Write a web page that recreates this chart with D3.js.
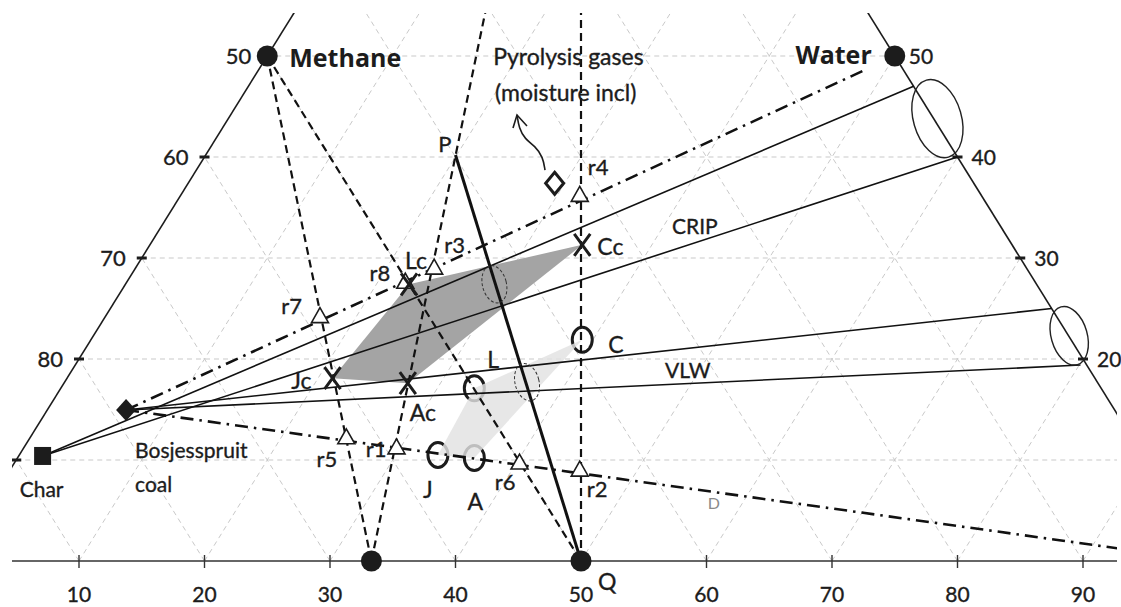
<!DOCTYPE html>
<html>
<head>
<meta charset="utf-8">
<script src="https://cdn.jsdelivr.net/npm/d3@7"></script>
<style>
  html, body { margin: 0; padding: 0; background: #fff; }
  svg { display: block; }
  text { font-family: Lato, "Open Sans", sans-serif; fill: #1c1c1c; stroke: #1c1c1c; stroke-width: 0.35px; }
</style>
</head>
<body>
<svg id="chart" width="1121" height="607"></svg>
<script>
// Every point is [position on the bottom scale, level on the side scale].

// Axis ticks
const bottomTicks = [10, 20, 30, 40, 50, 60, 70, 80, 90];
const sideLevels = [10, 20, 30, 40, 50];
const labelledLevels = [20, 30, 40, 50];
const leftTickLabels = ["80", "70", "60", "50"];   // left side reads 100 - level
const rightTickLabels = ["20", "30", "40", "50"];

// Triangle corners used by construction lines
const apex = [50, 100];
const rightCorner = [100, 0];

// Pure components
const pureNames = ["Methane", "Water"];
const purePoints = [[25, 50], [75, 50]];
const baseNames = ["", "Q"];
const basePoints = [[33.3, 0], [50, 0]];

// Solid feedstocks
const charPoint = [7.1, 10.4];
const coalPoint = [13.75, 14.95];

// Pyrolysis gas composition and the P–Q line
const gasPoint = [47.9, 37.4];
const pointP = [40, 40.2];

// Reaction points r1..r8
const triNames = ["r1", "r2", "r3", "r4", "r5", "r6", "r7", "r8"];
const triPoints = [[35.3, 11.2], [49.9, 9.0], [38.3, 29.0], [49.9, 36.2],
                   [31.3, 12.2], [45.1, 9.7], [29.2, 24.2], [36.0, 27.6]];

// Corrected operating points (crosses) and measured points (rings)
const crossNames = ["Jc", "Lc", "Cc", "Ac"];
const crossPoints = [[30.2, 18.1], [36.3, 27.4], [50.1, 31.3], [36.2, 17.6]];
const ringNames = ["J", "L", "C", "A"];
const ringPoints = [[38.6, 10.5], [41.5, 17.1], [50.1, 21.9], [41.5, 10.2]];

// Fan lines towards the right side
const fanFromChar = [[76.5, 47.0], [80.0, 40.0]];
const fanFromCoal = [[87.5, 25.0], [89.8, 19.4]];
const waterLineEnd = [72.6, 48.6];

// Uncertainty ellipses
const sideEllipses = [[78.4, 43.8], [88.9, 22.3]];
const crossingEllipses = [[43.1, 27.4], [45.7, 17.7]];

// Free text placed on the diagram
const freeNames = ["CRIP", "VLW", "Pyrolysis gases", "(moisture incl)", "D"];
const freePoints = [[57.25, 32.4], [56.7, 18.1], [43.0, 49.1], [43.15, 45.5], [60.1, 5.15]];

// Arrow from the gas point to its caption
const arrowPath = [[47.13, 38.71], [46.97, 40.0], [46.33, 41.09], [45.53, 41.78], [45.06, 42.87], [44.9, 44.16]];

// ---------------------------------------------------------------
const W = 1121, H = 607;
const svg = d3.select("#chart");
const x = d3.scaleLinear().domain([0, 100]).range([-46.5, 1208.5]);
const y = d3.scaleLinear().domain([0, 100]).range([561, -449]);
const px = p => [x(p[0]), y(p[1])];
const line = d3.line().x(d => x(d[0])).y(d => y(d[1]));

svg.append("rect").attr("width", W).attr("height", H).attr("fill", "#fff");

svg.append("clipPath").attr("id", "plotClip")
  .append("rect").attr("x", 12).attr("y", 13).attr("width", 1105).attr("height", 594);

const plot = svg.append("g").attr("clip-path", "url(#plotClip)");

// Triangular grid
const gridSegs = [];
sideLevels.forEach(h => gridSegs.push([[h / 2, h], [100 - h / 2, h]]));
bottomTicks.forEach(u => {
  gridSegs.push([[u, 0], [u + (100 - u) / 2, 100 - u]]);
  gridSegs.push([[u, 0], [u / 2, u]]);
});
plot.append("g").selectAll("path").data(gridSegs).join("path")
  .attr("d", line).attr("fill", "none")
  .attr("stroke", "#c9c9c9").attr("stroke-width", 1).attr("stroke-dasharray", "5,4");

// Shaded regions
plot.append("path").datum(crossPoints.concat([crossPoints[0]]))
  .attr("d", line).attr("fill", "#a4a4a4").attr("stroke", "none");

// Measured rings sit under the light region
const ringG = plot.append("g");
ringG.selectAll("ellipse").data(ringPoints).join("ellipse")
  .attr("cx", d => x(d[0])).attr("cy", d => y(d[1]))
  .attr("rx", 10).attr("ry", 12.5)
  .attr("fill", "none").attr("stroke", "#1c1c1c").attr("stroke-width", 3);

plot.append("path").datum(ringPoints.concat([ringPoints[0]]))
  .attr("d", line).attr("fill", "#e2e2e2").attr("fill-opacity", 0.82).attr("stroke", "none");

// Triangle edges and base axis
const edges = [[[0, 0], apex], [rightCorner, apex]];
plot.append("g").selectAll("path").data(edges).join("path")
  .attr("d", line).attr("stroke", "#1c1c1c").attr("stroke-width", 1.6).attr("fill", "none");
plot.append("path").datum([[0, 0], rightCorner]).attr("d", line)
  .attr("stroke", "#333").attr("stroke-width", 1.6);

// Bottom ticks and labels
const bt = svg.append("g");
bt.selectAll("line").data(bottomTicks).join("line")
  .attr("x1", d => x(d)).attr("x2", d => x(d))
  .attr("y1", y(0) - 6).attr("y2", y(0) + 7)
  .attr("stroke", "#333").attr("stroke-width", 1.4);
bt.selectAll("text").data(bottomTicks).join("text")
  .attr("x", d => x(d)).attr("y", y(0) + 41)
  .attr("text-anchor", "middle").attr("font-size", 21)
  .text(d => d);

// Side ticks and labels
const leftPts = sideLevels.map(h => [h / 2, h]);
const rightPts = sideLevels.map(h => [100 - h / 2, h]);
plot.append("g").selectAll("line").data(leftPts.concat(rightPts)).join("line")
  .attr("x1", d => x(d[0]) - 5).attr("x2", d => x(d[0]) + 5)
  .attr("y1", d => y(d[1])).attr("y2", d => y(d[1]))
  .attr("stroke", "#1c1c1c").attr("stroke-width", 3);
svg.append("g").selectAll("text").data(labelledLevels).join("text")
  .attr("x", h => x(h / 2) - 16).attr("y", h => y(h) + 8)
  .attr("text-anchor", "end").attr("font-size", 22)
  .text((d, i) => leftTickLabels[i]);
svg.append("g").selectAll("text").data(labelledLevels).join("text")
  .attr("x", h => x(100 - h / 2) + 14).attr("y", h => y(h) + 8)
  .attr("text-anchor", "start").attr("font-size", 21)
  .text((d, i) => rightTickLabels[i]);

// Dashed construction lines
const dashed = [
  [purePoints[0], basePoints[0]],
  [purePoints[0], basePoints[1]],
  [basePoints[0], apex],
  [basePoints[1], apex]
];
plot.append("g").selectAll("path").data(dashed).join("path")
  .attr("d", line).attr("fill", "none")
  .attr("stroke", "#111").attr("stroke-width", 2.2).attr("stroke-dasharray", "8,5");

// Dash-dot lines from the coal
const dashDot = [[coalPoint, waterLineEnd], [coalPoint, rightCorner]];
plot.append("g").selectAll("path").data(dashDot).join("path")
  .attr("d", line).attr("fill", "none")
  .attr("stroke", "#111").attr("stroke-width", 2.6).attr("stroke-dasharray", "13,6,2.5,6");

// Fan lines
const fans = fanFromChar.map(e => [charPoint, e]).concat(fanFromCoal.map(e => [coalPoint, e]));
plot.append("g").selectAll("path").data(fans).join("path")
  .attr("d", line).attr("fill", "none")
  .attr("stroke", "#111").attr("stroke-width", 1.6);

// P–Q line
plot.append("path").datum([pointP, basePoints[1]]).attr("d", line)
  .attr("stroke", "#111").attr("stroke-width", 3).attr("fill", "none");

// Ellipses
const ell = plot.append("g");
ell.selectAll(".se").data(sideEllipses).join("ellipse").attr("class", "se")
  .attr("transform", d => `translate(${x(d[0])},${y(d[1])}) rotate(-16)`)
  .attr("rx", (d, i) => i === 0 ? 24 : 18).attr("ry", (d, i) => i === 0 ? 40 : 30)
  .attr("fill", "none").attr("stroke", "#222").attr("stroke-width", 1.4);
ell.selectAll(".ce").data(crossingEllipses).join("ellipse").attr("class", "ce")
  .attr("transform", d => `translate(${x(d[0])},${y(d[1])}) rotate(-14)`)
  .attr("rx", 12).attr("ry", 19)
  .attr("fill", "none").attr("stroke", "#333").attr("stroke-width", 1).attr("stroke-dasharray", "3,2");

// Markers
const mk = svg.append("g");
mk.selectAll(".pure").data(purePoints.concat(basePoints)).join("circle")
  .attr("cx", d => x(d[0])).attr("cy", d => y(d[1])).attr("r", 10.5)
  .attr("fill", "#1c1c1c");
mk.append("rect")
  .attr("x", x(charPoint[0]) - 8.5).attr("y", y(charPoint[1]) - 9)
  .attr("width", 17).attr("height", 18).attr("fill", "#1c1c1c");
mk.append("path")
  .attr("transform", `translate(${x(coalPoint[0])},${y(coalPoint[1])})`)
  .attr("d", "M0,-11 L10,0 L0,11 L-10,0 Z").attr("fill", "#1c1c1c");
mk.append("path")
  .attr("transform", `translate(${x(gasPoint[0])},${y(gasPoint[1])})`)
  .attr("d", "M0,-11 L9,0 L0,11 L-9,0 Z").attr("fill", "#fff")
  .attr("stroke", "#1c1c1c").attr("stroke-width", 3);
mk.selectAll(".tri").data(triPoints).join("path")
  .attr("transform", d => `translate(${x(d[0])},${y(d[1])})`)
  .attr("d", "M0,-9 L8.5,6 L-8.5,6 Z")
  .attr("fill", "#fff").attr("stroke", "#1c1c1c").attr("stroke-width", 1.6);
mk.selectAll(".cross").data(crossPoints).join("path")
  .attr("transform", d => `translate(${x(d[0])},${y(d[1])})`)
  .attr("d", "M-8,-11 L8,11 M8,-11 L-8,11")
  .attr("fill", "none").attr("stroke", "#1c1c1c").attr("stroke-width", 3);

// Arrow to the gas caption
const curve = d3.line().curve(d3.curveBasis).x(d => x(d[0])).y(d => y(d[1]));
svg.append("path").datum(arrowPath).attr("d", curve)
  .attr("fill", "none").attr("stroke", "#1c1c1c").attr("stroke-width", 1.6);
const tip = px(arrowPath[arrowPath.length - 1]);
svg.append("path")
  .attr("d", `M${tip[0] - 4},${tip[1] + 13} L${tip[0]},${tip[1]} L${tip[0] + 10},${tip[1] + 11}`)
  .attr("fill", "none").attr("stroke", "#1c1c1c").attr("stroke-width", 1.6);

// Labels
const lab = svg.append("g");
function label(p, text, anchor, dx, dy, size, weight, family, color) {
  const t = lab.append("text")
    .attr("x", x(p[0]) + dx).attr("y", y(p[1]) + dy)
    .attr("text-anchor", anchor).attr("font-size", size || 22)
    .text(text);
  if (weight) t.attr("font-weight", weight).style("stroke-width", "0px");
  if (family) t.style("font-family", family);
  if (color) t.style("fill", color).style("stroke-width", "0px");
  return t;
}
const triNudge = {
  r1: ["end", -10, 9], r2: ["start", 7, 27], r3: ["start", 10, -15], r4: ["start", 8, -20],
  r5: ["end", -9, 29], r6: ["end", -4, 27], r7: ["end", -18, -3], r8: ["end", -15, -1]
};
triPoints.forEach((p, i) => { const n = triNudge[triNames[i]]; label(p, triNames[i], n[0], n[1], n[2]); });
const crossNudge = { Jc: ["end", -21, 11], Lc: ["start", -4, -15], Cc: ["start", 15, 10], Ac: ["start", 2, 38] };
crossPoints.forEach((p, i) => { const n = crossNudge[crossNames[i]]; label(p, crossNames[i], n[0], n[1], n[2], 23); });
const ringNudge = { J: ["middle", -10, 43], L: ["start", 13, -20], C: ["start", 26, 13], A: ["middle", 1, 52] };
ringPoints.forEach((p, i) => { const n = ringNudge[ringNames[i]]; label(p, ringNames[i], n[0], n[1], n[2], 23); });

label(purePoints[0], pureNames[0], "start", 22, 11, 25, 700, "'Open Sans', sans-serif");
label(purePoints[1], pureNames[1], "end", -23, 8, 25, 700, "'Open Sans', sans-serif");
label(pointP, "P", "end", -4, -3, 22);
label(basePoints[1], baseNames[1], "start", 17, 29, 23);
label(charPoint, "Char", "middle", -1, 41, 21);
label(coalPoint, "Bosjesspruit", "start", 9, 48, 21);
label(coalPoint, "coal", "start", 9, 82, 21);

freePoints.forEach((p, i) => {
  const isD = freeNames[i] === "D";
  label(p, freeNames[i], "start", 0, 0, isD ? 16 : (i < 2 ? 21 : 23), null, null, isD ? "#8a8a8a" : null);
});
</script>
</body>
</html>
